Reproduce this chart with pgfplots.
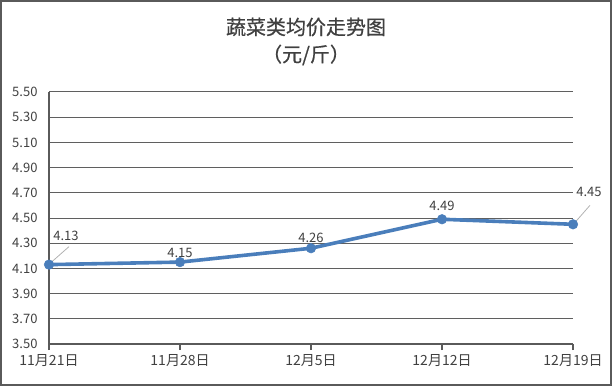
\documentclass[border=0pt]{standalone}
\usepackage{fontspec}
\setmainfont{Noto Sans CJK SC}
\newfontfamily\titlefont[FakeBold=0.6]{Noto Sans CJK SC}
\usepackage{pgfplots}
\pgfplotsset{compat=1.18}
\definecolor{linec}{RGB}{74,126,187}
\definecolor{gridc}{RGB}{95,95,95}
\definecolor{txt}{RGB}{64,64,64}
\definecolor{frame}{RGB}{90,90,90}
\begin{document}
\begin{tikzpicture}[x=1pt,y=1pt]
\draw[frame, line width=2pt] (1,1) rectangle (611,385);
\node[text=txt, font=\titlefont\fontsize{20}{24}\selectfont] at (306,359) {蔬菜类均价走势图};
\node[text=txt, font=\titlefont\fontsize{20}{24}\selectfont] at (306,331) {（元/斤）};
\begin{axis}[at={(49pt,42pt)}, anchor=south west, scale only axis,
  width=524pt, height=252pt, clip=false,
  xmin=0, xmax=4, ymin=3.5, ymax=5.5,
  xtick={0,1,2,3,4},
  xticklabels={11月21日,11月28日,12月5日,12月12日,12月19日},
  ytick={3.5,3.7,3.9,4.1,4.3,4.5,4.7,4.9,5.1,5.3,5.5},
  yticklabel style={/pgf/number format/fixed, /pgf/number format/fixed zerofill, /pgf/number format/precision=2, xshift=-2pt, font=\fontsize{13}{15}\selectfont},
  /pgf/number format/assume math mode=true,
  ticklabel style={text=txt},
  xticklabel style={yshift=-1pt, font=\fontsize{14}{16}\selectfont},
  axis x line*=bottom, axis y line*=left,
  axis line style={-},
  x axis line style={line width=2pt, frame},
  y axis line style={line width=1.5pt, frame},
  ymajorgrids, grid style={gridc, line width=1pt},
  xtick style={line width=2pt, frame}, tick align=outside, major tick length=6pt,
  ytick style={draw=none},
]
\addplot[color=linec, line width=3.6pt, mark=*, mark size=4.8pt,
  mark options={fill=linec, draw=linec, line width=0.5pt},
  nodes near coords={\pgfmathprintnumber[fixed,fixed zerofill,precision=2]{\pgfplotspointmeta}},
  nodes near coords style={font=\fontsize{13}{15}\selectfont, text=txt, anchor=center},
  coordinate style/.condition={\coordindex==0}{xshift=17pt, yshift=29pt},
  coordinate style/.condition={\coordindex==1}{yshift=9pt},
  coordinate style/.condition={\coordindex==2}{yshift=10pt},
  coordinate style/.condition={\coordindex==3}{yshift=13pt},
  coordinate style/.condition={\coordindex==4}{xshift=16pt, yshift=32pt},
] coordinates {(0,4.13) (1,4.15) (2,4.26) (3,4.49) (4,4.45)};
\draw[gray!60, line width=0.8pt] (axis cs:0,4.13) ++(3pt,3pt) -- ++(17pt,15pt);
\draw[gray!60, line width=0.8pt] (axis cs:4,4.45) ++(3pt,3pt) -- ++(14pt,16pt);
\end{axis}
\end{tikzpicture}
\end{document}
